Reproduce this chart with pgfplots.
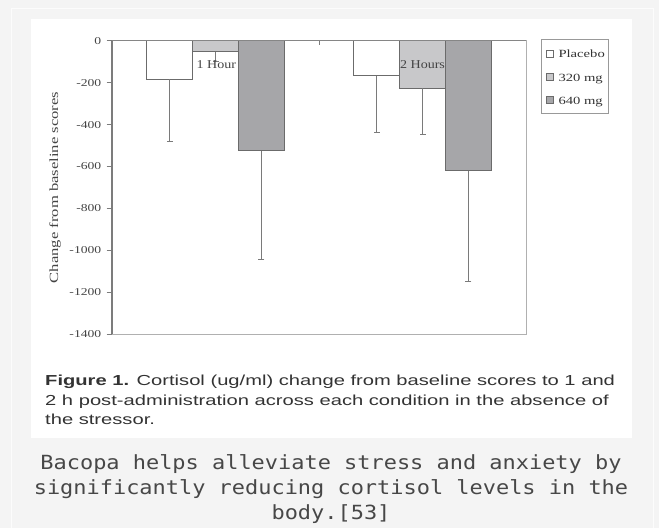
\documentclass[border=0pt]{standalone}
\usepackage{pgfplots}
\pgfplotsset{compat=1.18}
\usepackage{fontspec}
\setmainfont{Liberation Serif}
\newfontfamily\tkfnt[FakeStretch=1.3]{Liberation Serif}
\newfontfamily\labfnt[FakeStretch=1.33]{Liberation Serif}
\newfontfamily\hourfnt[FakeStretch=1.17]{Liberation Serif}
\newfontfamily\capfnt[FakeStretch=1.39]{Liberation Sans}
\newfontfamily\monofnt[FakeStretch=1.125]{DejaVu Sans Mono}
\definecolor{bgc}{HTML}{F4F4F4}
\definecolor{framec}{HTML}{B0B0B0}
\definecolor{axc}{HTML}{7C7C7C}
\definecolor{barc}{HTML}{6B6B6B}
\definecolor{errc}{HTML}{7A7A7A}
\definecolor{midfill}{HTML}{C8C8CA}
\definecolor{darkfill}{HTML}{A6A6A9}
\definecolor{txtc}{HTML}{444444}
\definecolor{capc}{HTML}{333333}
\definecolor{legc}{HTML}{999999}
\begin{document}
\begin{tikzpicture}[x=1bp,y=1bp]
\fill[bgc] (0,0) rectangle (659,528);
\useasboundingbox (0,0) rectangle (659,528);
\draw[white!70!bgc, line width=1bp] (11,-5) -- (11,519) -- (653,519) -- (653,-5);
\fill[white] (31,89.7) rectangle (632.3,509);
\begin{axis}[
  at={(112bp,193.7bp)}, anchor=south west,
  scale only axis, width=414bp, height=293.6bp,
  xmin=0, xmax=2, ymin=-1400, ymax=0,
  axis line style={draw=framec, line width=1bp},
  xtick=\empty,
  ytick={-1400,-1200,-1000,-800,-600,-400,-200,0},
  yticklabel={\tkfnt\fontsize{10.5bp}{12bp}\selectfont\pgfmathprintnumber[assume math mode=true, set thousands separator={}]{\tick}},
  ytick pos=left, tick align=outside,
  major tick length=5.5bp,
  tick style={axc, line width=1bp},
  yticklabel style={text=txtc, inner sep=0pt, xshift=-5bp},
  ylabel={Change from baseline scores},
  ylabel style={at={(axis description cs:-0.1377,0.5)}, anchor=center, font=\labfnt\fontsize{12.5bp}{14bp}\selectfont, text=txtc},
  ybar, bar width=0.222,
  legend style={at={(1.0355,1.0048)}, anchor=north west, draw=legc, line width=1bp, fill=white,
    font=\labfnt\fontsize{11bp}{13bp}\selectfont, text=capc, inner xsep=3bp, inner ysep=7bp,
    row sep=9.8bp, nodes={inner sep=1bp, text height=10bp, text depth=1.5bp}},
  legend cell align=left,
  clip=false,
]
\addplot[fill=white, draw=barc, line width=1bp, bar shift=0pt,
  legend image code/.code={\path (0bp,0bp) (12.3bp,0bp); \draw[fill=white, draw=barc, line width=0.8bp] (1.3bp,-3.5bp) rectangle (8.3bp,3.5bp);},
  error bars/.cd, y dir=minus, y explicit,
  error bar style={errc, line width=0.9bp},
  error mark options={rotate=90, errc, mark size=3bp, line width=0.9bp}]
  coordinates {(0.278,-184) +- (0,296) (1.278,-168) +- (0,271)};
\addlegendentry{Placebo}
\addplot[fill=midfill, draw=barc, line width=1bp, bar shift=0pt,
  legend image code/.code={\path (0bp,0bp) (12.3bp,0bp); \draw[fill=midfill, draw=barc, line width=0.8bp] (1.3bp,-3.5bp) rectangle (8.3bp,3.5bp);},
  error bars/.cd, y dir=minus, y explicit,
  error bar style={errc, line width=0.9bp},
  error mark options={rotate=90, errc, mark size=3bp, line width=0.9bp}]
  coordinates {(0.5,-52) +- (0,48) (1.5,-227) +- (0,219)};
\addlegendentry{320 mg}
\addplot[fill=darkfill, draw=barc, line width=1bp, bar shift=0pt,
  legend image code/.code={\path (0bp,0bp) (12.3bp,0bp); \draw[fill=darkfill, draw=barc, line width=0.8bp] (1.3bp,-3.5bp) rectangle (8.3bp,3.5bp);},
  error bars/.cd, y dir=minus, y explicit,
  error bar style={errc, line width=0.9bp},
  error mark options={rotate=90, errc, mark size=3bp, line width=0.9bp}]
  coordinates {(0.722,-525) +- (0,516) (1.722,-620) +- (0,530)};
\addlegendentry{640 mg}
\draw[axc, line width=1.2bp] (axis cs:0,-1400) -- (axis cs:0,0);
\draw[axc!80!framec, line width=1.1bp] (axis cs:0,0) -- (axis cs:2,0);
\draw[axc, line width=1bp] (axis cs:1,0) -- ++(0pt,-4bp);
\node[font=\hourfnt\fontsize{12bp}{14bp}\selectfont, text=txtc, anchor=base] at (axis cs:0.504,-131.6) {1 Hour};
\node[font=\hourfnt\fontsize{12bp}{14bp}\selectfont, text=txtc, anchor=base] at (axis cs:1.5,-131.6) {2 Hours};
\end{axis}
\begin{scope}[font=\capfnt\fontsize{14.5bp}{19.5bp}\selectfont, text=capc]
\node[anchor=base west, inner sep=0pt] at (45,142) {\textbf{Figure 1.} Cortisol (ug/ml) change from baseline scores to 1 and};
\node[anchor=base west, inner sep=0pt] at (45,122.5) {2 h post-administration across each condition in the absence of};
\node[anchor=base west, inner sep=0pt] at (45,103) {the stressor.};
\end{scope}
\begin{scope}[font=\monofnt\fontsize{19.5bp}{25bp}\selectfont, text=capc!90!white]
\node[anchor=base, inner sep=0pt] at (331,58.7) {Bacopa helps alleviate stress and anxiety by};
\node[anchor=base, inner sep=0pt] at (331,33.7) {significantly reducing cortisol levels in the};
\node[anchor=base, inner sep=0pt] at (331,8.7) {body.[53]};
\end{scope}
\end{tikzpicture}
\end{document}
